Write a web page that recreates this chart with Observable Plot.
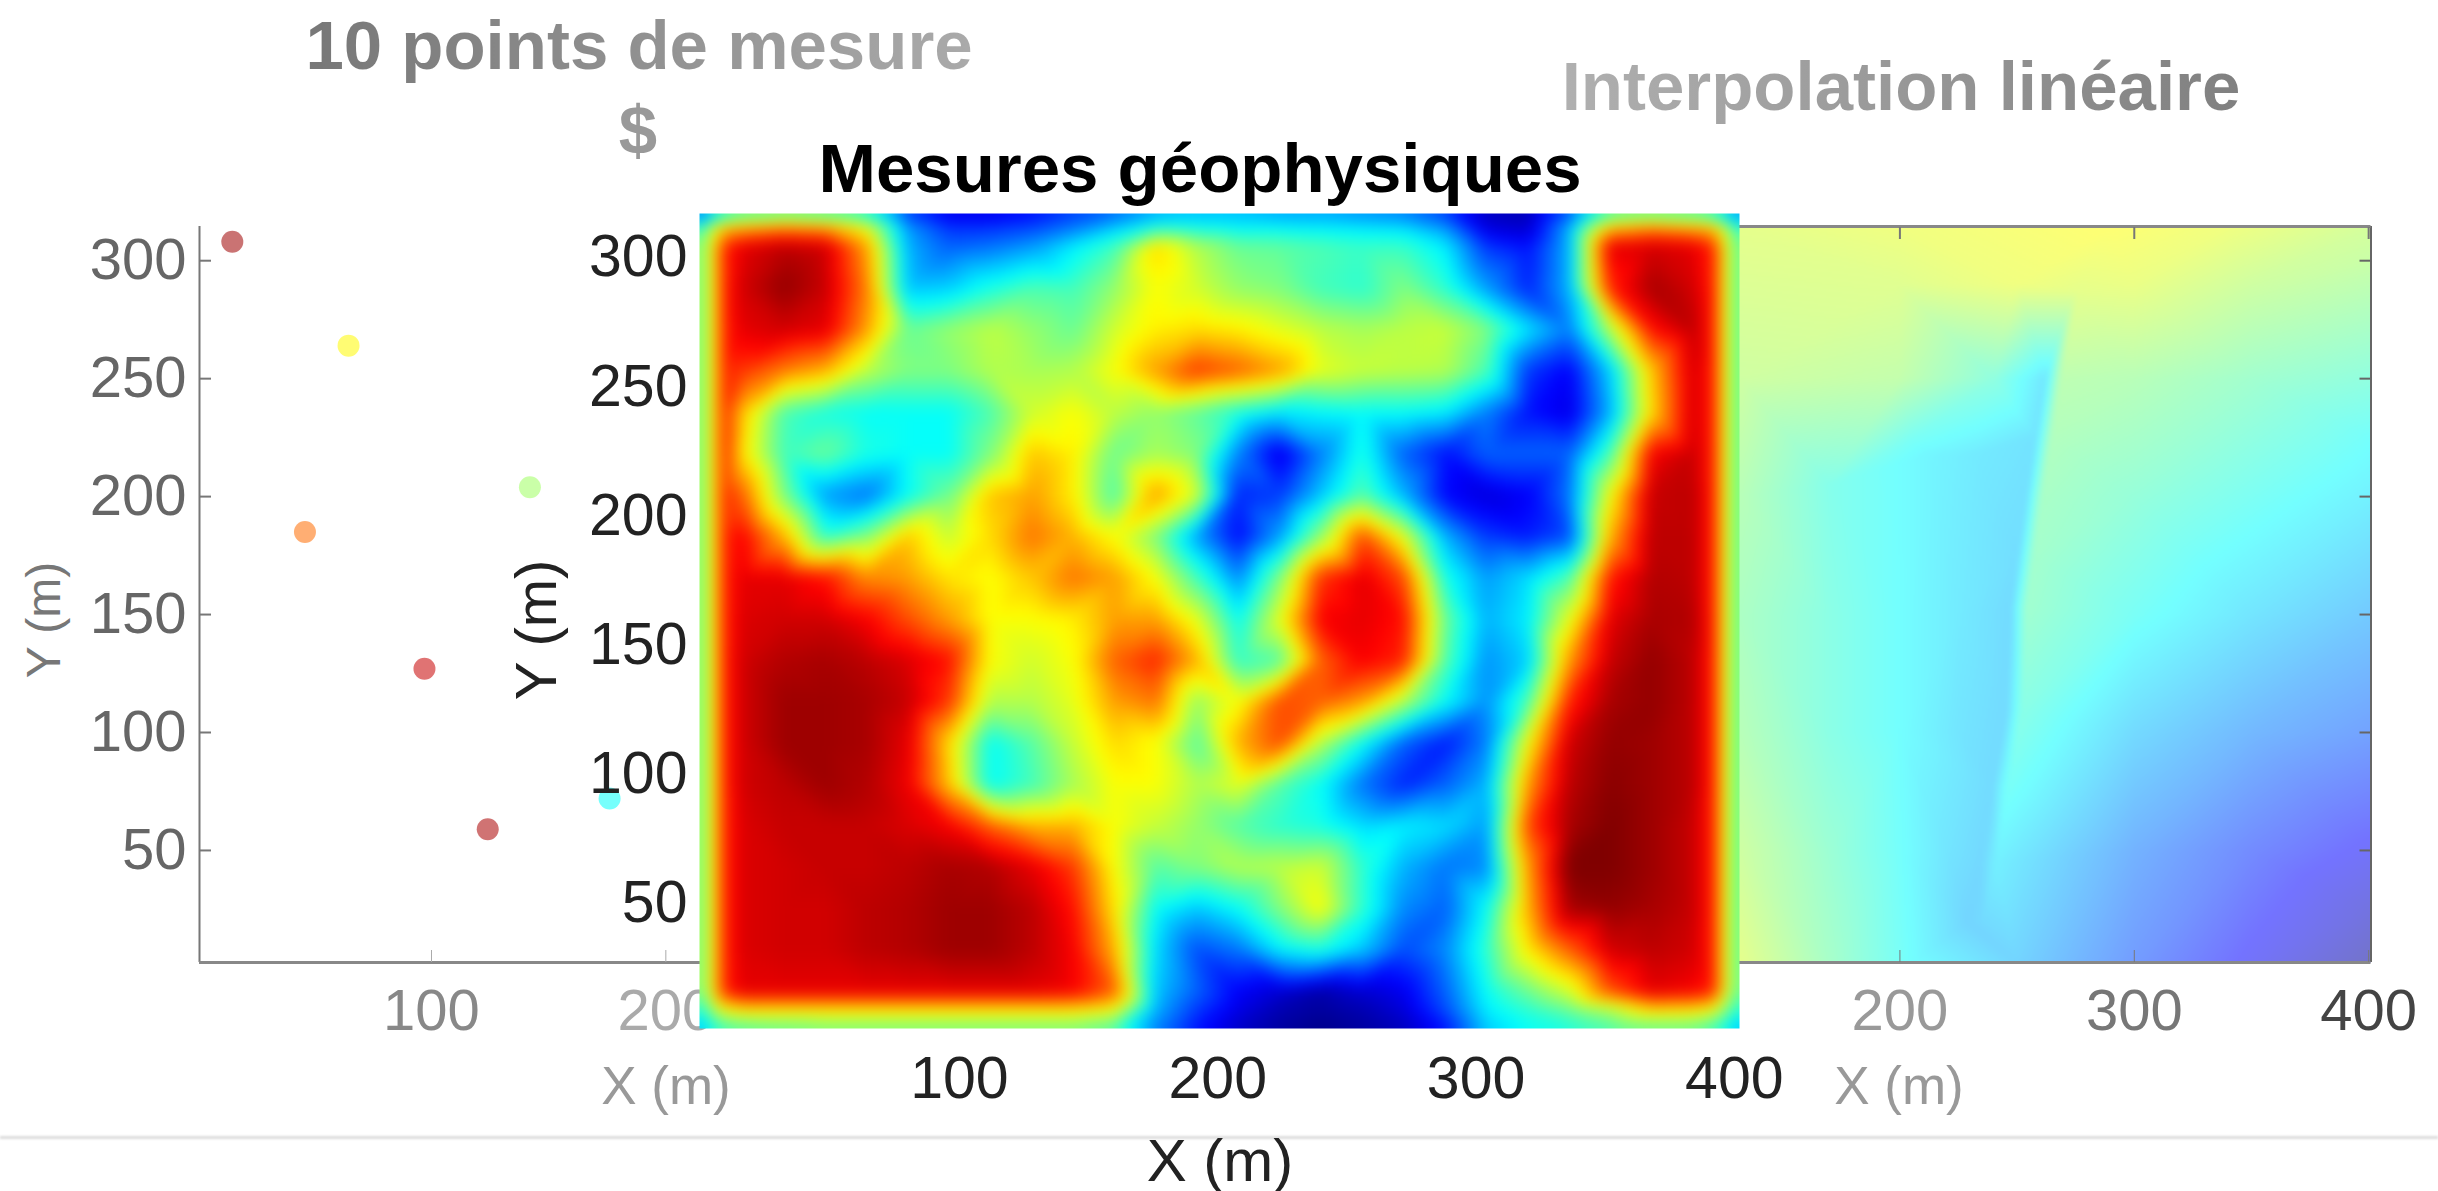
<!DOCTYPE html>
<html><head><meta charset="utf-8">
<script src="https://cdn.jsdelivr.net/npm/d3@7"></script>
<script src="https://cdn.jsdelivr.net/npm/@observablehq/plot@0.6"></script>
<style>
html,body{margin:0;padding:0;background:#fff;overflow:hidden;width:2438px;height:1191px}
#page{position:relative;width:2438px;height:1191px;overflow:hidden;font-family:"Liberation Sans",Arial,sans-serif}
#page svg{position:absolute;left:0;top:0;max-width:none!important}
.lab{position:absolute;white-space:nowrap;transform:translate(-50%,-50%)}
</style></head><body><div id="page"></div>
<script>
// jet colour map
const jetStops=[0,12.5,37.5,62.5,87.5,100];
const jetColors=["#000080","#0000ff","#00ffff","#ffff00","#ff0000","#800000"];
const colorScale={type:"linear",domain:jetStops,range:jetColors,clamp:true};

// left panel: measurement points (x, y, value). The last three lie under the centre image.
const ptX=[15,64.6,142,46,97,124,176,262,275,232];
const ptY=[308,264,204,185,127,59,72,248,287,30];
const ptV=[97,63,53,77,93,96,38,33,58,30];

// centre panel: geophysical map, read on a grid
const gridX=[-0.65,4,9,16,32,48,64,80,96,112,128,144,160,176,192,208,224,240,256,272,288,304,320,336,352,368,384,392,396.5,402];
const gridY=[317,311,304,288,272,256,240,224,208,192,176,160,144,128,112,96,80,64,48,32,16,9,1.6];
const bandL=[47,62,84], bandR=[84,62,45];
const row317=[22,30,38,42,44,42,38,18,10,10,13,18,22,28,30,30,28,28,26,24,18,6,5,20,42,44,42,38,32,25];
const row311=[40,58,70,72,76,74,62,28,18,18,20,25,33,42,40,38,38,37,36,35,28,10,8,30,70,75,72,70,58,40];
const innerRows=[
[90,94,92,72,30,22,24,28,36,44,66,55,48,47,45,43,43,36,18,14,30,90,92,90],
[92,98,93,75,32,33,40,45,44,52,62,58,52,50,44,42,50,42,28,16,30,84,96,92],
[90,92,90,72,48,52,56,52,48,58,64,66,64,60,56,54,56,57,50,35,25,55,86,94],
[82,75,70,56,50,50,55,54,55,62,72,82,78,72,60,57,56,55,45,18,12,33,68,92],
[68,45,40,38,38,38,45,58,62,56,52,47,40,35,37,38,38,36,25,14,10,30,66,92],
[65,44,48,40,38,38,50,68,64,48,54,50,25,10,25,40,22,14,22,22,22,45,88,93],
[78,50,28,24,38,48,68,72,64,45,72,58,16,18,32,46,30,13,9,12,24,62,93,94],
[88,70,42,50,68,57,66,76,70,62,50,28,13,28,52,80,60,30,18,15,20,70,94,94],
[90,90,86,74,72,65,62,68,76,72,62,44,26,50,83,90,80,40,28,34,45,85,95,94],
[91,92,92,88,80,72,62,62,64,72,72,60,38,60,88,90,86,48,30,36,60,90,96,95],
[92,95,96,94,91,86,62,58,62,78,84,70,42,46,78,88,84,46,27,33,72,93,98,94],
[92,97,97,96,93,82,55,55,60,72,76,52,62,80,78,72,55,38,27,45,84,96,98,94],
[92,97,97,96,90,66,38,46,57,66,62,46,70,80,55,38,22,15,25,62,92,98,97,94],
[92,94,97,95,89,68,38,44,54,62,62,55,60,46,38,24,16,22,30,72,94,99,97,94],
[91,93,93,93,91,88,78,70,70,62,57,52,46,42,40,34,36,34,28,80,96,100,97,93],
[91,92,93,93,94,96,95,90,82,62,46,50,55,56,58,42,30,24,26,72,100,100,97,93],
[91,92,92,94,95,97,97,94,86,65,38,32,38,50,62,42,26,22,38,70,96,98,96,93],
[91,92,92,94,95,97,97,94,88,70,34,20,24,36,40,32,20,26,42,64,78,92,94,92],
[90,90,90,90,90,90,90,90,88,78,32,22,12,8,4,8,11,22,38,48,58,80,90,88]
];
const row9=[40,52,62,66,66,66,66,66,66,66,66,66,62,30,18,10,5,3,5,9,20,36,42,48,55,67,66,62,52,40];
const row2=[30,38,42,44,46,48,48,48,48,48,48,48,44,25,14,7,3,1,3,6,14,32,38,40,44,46,46,42,38,30];
const gridRows=[row317,row311,...innerRows.map(r=>[...bandL,...r,...bandR]),row9,row2];
const geoCells=gridRows.flatMap((r,j)=>r.map((v,i)=>({x:gridX[i],y:gridY[j],v})));

// right panel: linear interpolation, samples
const interpX=[1,1,401,401,132,200,290,340,401,401,401,401,401,401,401,401,132,170,205,250,300,350,
 262,258,254,250.5,247.5,245.7,239.6,235,229,
 268.5,264.5,260.5,257,254,252,246,241,235,
 275.5,300,350,300,350,300,300,350,300,350,
 132,200,132,132,132,132,240,205,170,200,200,200,170,170,170,225,225,220,200,250,300,350,232,212];
const interpY=[314.5,2.5,314.5,2.5,314.5,314.5,314.5,314.5,300,250,225,200,150,100,50,25,2.5,2.5,2.5,2.5,2.5,2.5,
 250,225,200,175,153,110,77,45,20,
 250,225,200,175,153,110,77,45,20,
 287,250,250,200,150,150,100,100,50,50,
 250,250,200,150,100,50,250,224,205,150,100,50,150,100,50,150,100,50,290,290,290,290,218,218];
const interpV=[55,60,55,3,58,60,62.5,60,53,43,38,35,28,21,11.5,7,58,47,37.5,30,20,11.5,
 33,32.5,32,31.5,31,31,31,30.5,30,
 51,49,47.5,46.5,46,42,39,35,31,
 58,50,46,44,33,39,31,25,24,17,
 54,52,50,48,50,54,43,39,41,37.5,37.5,38,42,42,45,34,33,33,57,60,59,54,34,36];
const interpCells=interpX.map((x,i)=>({x,y:interpY[i],v:interpV[i]}));

const W=2438,H=1191;
const noBg={background:"transparent",fontFamily:"'Liberation Sans',Arial,sans-serif",overflow:"visible"};
const tickFS=58;

// LEFT
const left=Plot.plot({width:W,height:H,marginLeft:199,marginRight:W-1134,marginTop:226,marginBottom:H-962,
 style:{...noBg,color:"#777"},
 x:{domain:[1,400]},y:{domain:[2.5,314.5]},color:colorScale,
 marks:[
  Plot.ruleX([1],{stroke:"#777",strokeWidth:2}),
  Plot.ruleY([2.5],{stroke:"#888",strokeWidth:3}),
  Plot.axisY([50,100,150,200,250,300],{anchor:"left",tickSize:-12,tickPadding:25,fontSize:tickFS,label:null,color:"#666",stroke:"#777",strokeWidth:2}),
  Plot.axisX([100,200],{anchor:"bottom",tickSize:-12,tickPadding:12+26,fontSize:tickFS,label:null,stroke:"#aaa",fill:d=>({100:"#888",200:"#aaa"})[d]}),
  Plot.dot(ptX.map((x,i)=>({x,y:ptY[i],v:ptV[i]})),{x:"x",y:"y",fill:"v",r:11,fillOpacity:0.55,stroke:"none"})
 ]});

// RIGHT
const right=Plot.plot({width:W,height:H,marginLeft:1433,marginRight:W-2370.5,marginTop:226,marginBottom:H-962,
 style:{...noBg,color:"#777"},
 x:{domain:[1,401]},y:{domain:[2.5,314.5]},color:colorScale,
 marks:[
  Plot.raster(interpCells,{x:"x",y:"y",fill:"v",x1:1,x2:401,y1:2.5,y2:314.5,interpolate:"barycentric",pixelSize:2,blur:1,opacity:0.55}),
  Plot.ruleX([401],{stroke:"#666",strokeWidth:2}),
  Plot.ruleY([2.5,314.5],{stroke:"#888",strokeWidth:3}),
  Plot.axisY([50,100,150,200,250,300],{anchor:"right",tickSize:-12,tickFormat:()=>"",stroke:"#666",label:null,strokeWidth:2}),
  Plot.axisX([200,300,400],{anchor:"top",tickSize:-12,tickFormat:()=>"",stroke:"#777",label:null,strokeWidth:2}),
  Plot.axisX([200,300,400],{anchor:"bottom",tickSize:-12,tickPadding:12+26,fontSize:tickFS,label:null,stroke:"#777",fill:d=>({200:"#999",300:"#777",400:"#444"})[d]})
 ]});

// CENTRE
const centre=Plot.plot({width:W,height:H,marginLeft:699,marginRight:W-1739,marginTop:213,marginBottom:H-1028,
 style:{...noBg,color:"#222",filter:"blur(0.6px)"},
 x:{domain:[-0.65,402]},y:{domain:[1.6,317]},color:colorScale,
 marks:[
  Plot.raster(geoCells,{x:"x",y:"y",fill:"v",x1:-0.65,x2:402,y1:1.6,y2:317,interpolate:"barycentric",pixelSize:2,blur:3}),
  Plot.axisY([50,100,150,200,250,300],{anchor:"left",tickSize:0,tickPadding:12,fontSize:59,label:null,fill:"#222"}),
  Plot.axisX([100,200,300,400],{anchor:"bottom",tickSize:0,tickPadding:28,fontSize:59,label:null,fill:"#222"})
 ]});

const page=document.getElementById("page");
const ruleDiv=document.createElement("div");
ruleDiv.style.cssText="position:absolute;left:0;top:1136px;width:2438px;height:3px;background:#ddd;filter:blur(1px)";
page.append(ruleDiv,left,right,centre);

function label(text,x,y,size,css){
  const d=document.createElement("div");d.className="lab";d.textContent=text;
  d.style.cssText+=`left:${x}px;top:${y}px;font-size:${size}px;${css||""}`;
  page.append(d);return d;
}
const grad=(a,b)=>`font-weight:700;background:linear-gradient(90deg,${a},${b});-webkit-background-clip:text;background-clip:text;color:transparent;`;
label("10 points de mesure",639,45,69,grad("#777","#aaa"));
label("$",638,130,69,"font-weight:700;color:#999");
label("Interpolation linéaire",1901,86,69,grad("#b0b0b0","#808080"));
label("Mesures géophysiques",1200,168,69,"font-weight:700;color:#000");
label("Y (m)",43,620,48,"color:#777;transform:translate(-50%,-50%) rotate(-90deg)");
label("Y (m)",535,630,58,"color:#222;transform:translate(-50%,-50%) rotate(-90deg)");
label("X (m)",666,1085,53,"color:#999");
label("X (m)",1899,1085,53,"color:#999");
label("X (m)",1220,1160,60,"color:#222");
</script></body></html>
